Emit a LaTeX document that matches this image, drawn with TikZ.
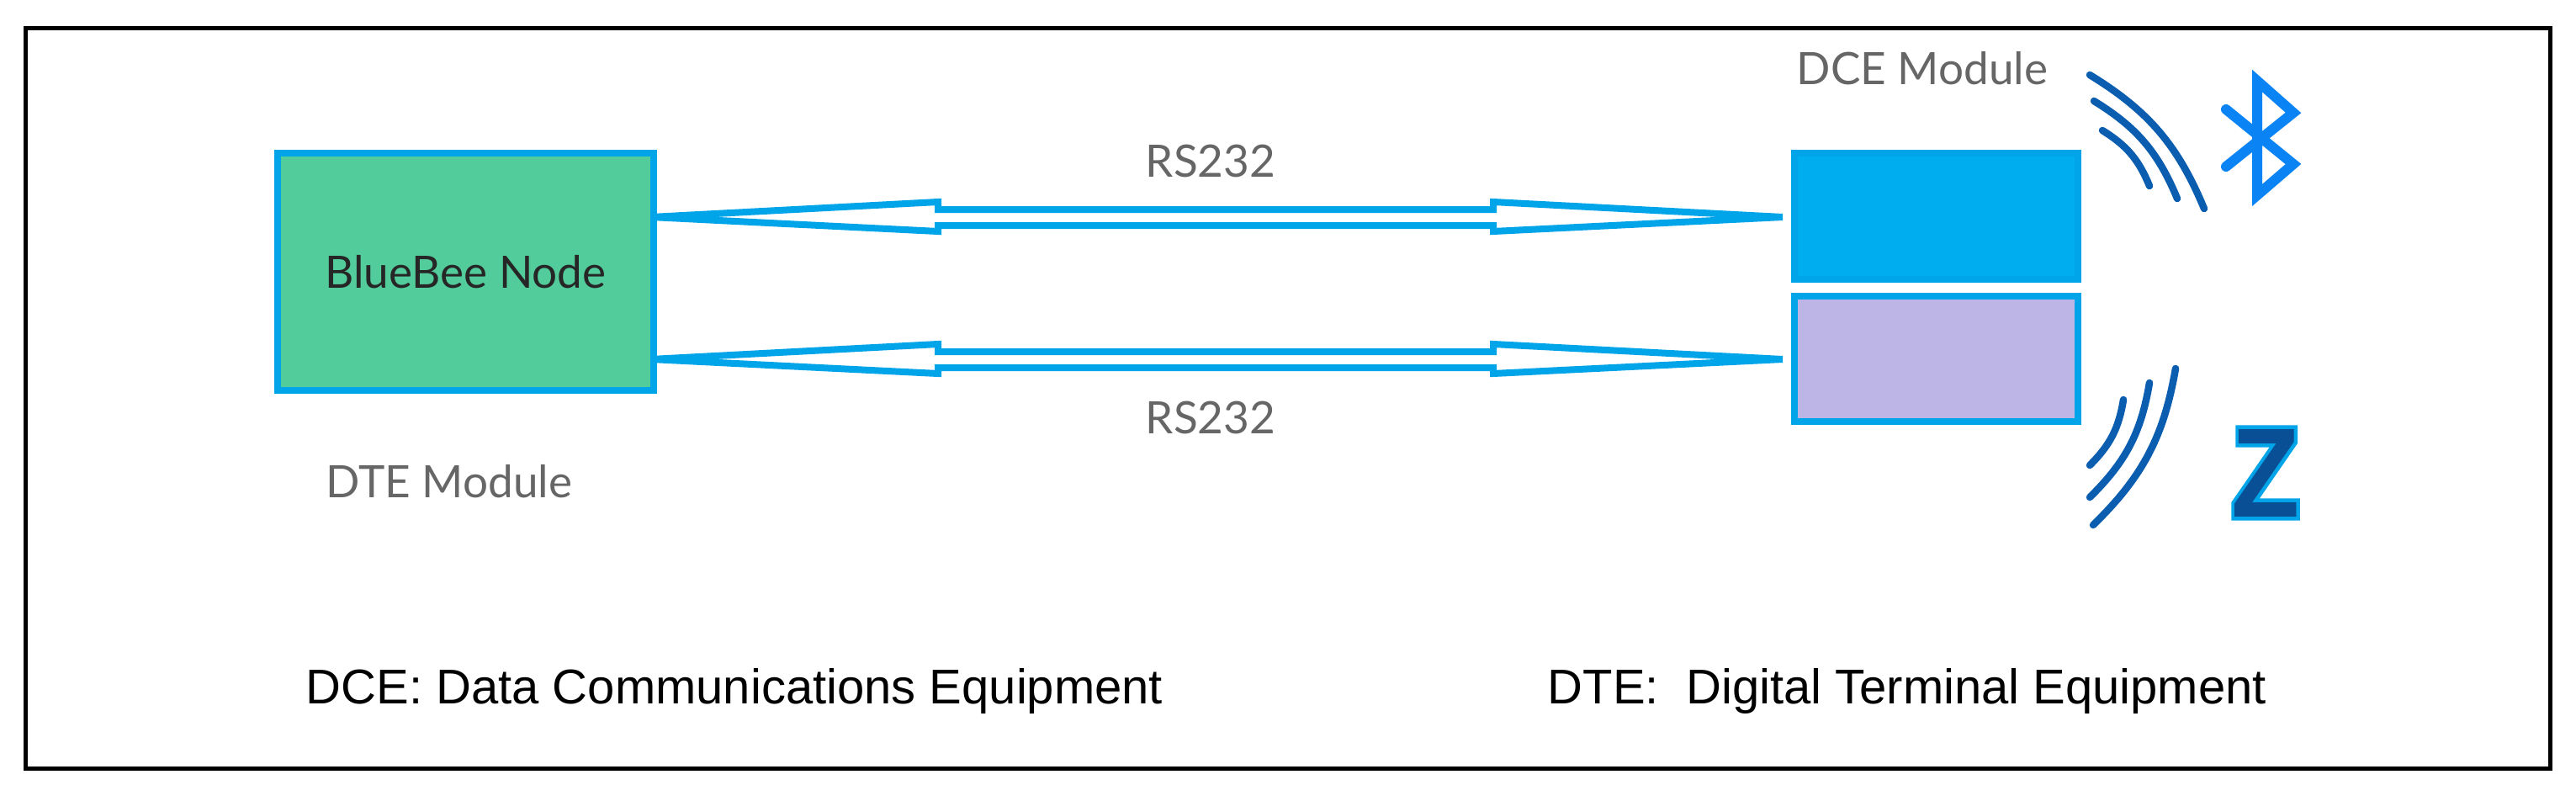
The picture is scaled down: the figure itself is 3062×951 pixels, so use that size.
\documentclass[tikz,border=0pt]{standalone}
\usepackage{fontspec}
\setmainfont{Lato}
\newfontfamily\arialfont{Liberation Sans}
\newfontfamily\zigfont[FakeBold=6]{Liberation Sans Bold}
\newfontfamily\zigthin{Liberation Sans Bold}
\usepackage{tikz}
\tikzset{>=stealth}
\definecolor{rsblue}{HTML}{00A4E8}
\definecolor{dtegreen}{HTML}{52CC9B}
\definecolor{dceblue}{HTML}{00AEEF}
\definecolor{ziglilac}{HTML}{BDB5E5}
\definecolor{btblue}{HTML}{0A84F5}
\definecolor{wavblue}{HTML}{0B5DB0}
\definecolor{txtgray}{HTML}{666666}
\tikzset{
    modbox/.style={draw=rsblue, line width=0.8mm, inner sep=0pt},
    rslink/.style={draw=rsblue, line width=0.8mm, fill=white, line join=miter},
    wave/.style={draw=wavblue, line width=0.85mm, line cap=round, bend left=18},
    graytext/.style={text=txtgray, font=\fontsize{15.1}{17}\selectfont, inner sep=0pt},
    legend/.style={text=black, font=\arialfont\fontsize{16.5}{19}\selectfont, inner sep=0pt}
}
\begin{document}
\begin{tikzpicture}[x=0.1mm,y=-0.1mm]
            \useasboundingbox (0,0) rectangle (3062,951);
            \node[draw=black, line width=0.5mm, minimum width=30.01cm, minimum height=8.80cm, inner sep=0pt] (frame) at (1530.5,473) {};
            \node[modbox, fill=dtegreen, minimum width=4.47cm, minimum height=2.82cm, text=black!85, font=\fontsize{15.1}{17}\selectfont] (dte) at (553.5,323) {BlueBee Node};
            \node[modbox, fill=dceblue, minimum width=3.37cm, minimum height=1.50cm] (dce) at (2301.5,257) {};
            \node[modbox, fill=ziglilac, minimum width=3.37cm, minimum height=1.49cm] (zig) at (2301.5,426.5) {};
            \coordinate (upa) at (774,258);
            \coordinate (upb) at (2119,258);
            \coordinate (loa) at (774,427);
            \coordinate (lob) at (2119,427);
            % the two serial links
            \draw[rslink] (upa) -- ++(341,-18) -- ++(0,9) -- ++(660,0) -- ++(0,-9) -- (upb) -- ++(-344,17) -- ++(0,-7) -- ++(-660,0) -- ++(0,7) -- cycle;
            \draw[rslink] (loa) -- ++(341,-18) -- ++(0,9) -- ++(660,0) -- ++(0,-9) -- (lob) -- ++(-344,17) -- ++(0,-7) -- ++(-660,0) -- ++(0,7) -- cycle;
            \node[graytext] (rsup) at (1439,191) {RS232};
            \node[graytext] (rslo) at (1439,496) {RS232};
            \node[graytext] (dcelab) at (2285,81) {DCE Module};
            \node[graytext] (dtelab) at (534,572) {DTE Module};
            \node[legend] (dcenote) at (873,821) {DCE: Data Communications Equipment};
            \node[legend] (dtenote) at (2267,821) {DTE:\ \ Digital Terminal Equipment};
            % radio waves
            \draw[wave] (2484,89) to (2620,248);
            \draw[wave] (2489,120) to (2588,236);
            \draw[wave] (2499,155) to (2555,221);
            \draw[wave] (2586,438) to (2488,624);
            \draw[wave] (2555,455) to (2484,591);
            \draw[wave] (2524,475) to (2484,553);
            % bluetooth rune
            \draw[btblue, line width=1.2mm, line cap=round, line join=miter] (2646,130) -- (2726,195) -- (2683,232) -- (2683,96) -- (2726,134) -- (2646,198);
            \node[text=rsblue, xscale=0.88, font=\zigfont\fontsize{43}{43}\selectfont, inner sep=0pt] (zback) at (2693,562) {Z};
            \node[text=wavblue!85!black, xscale=0.88, font=\zigthin\fontsize{43}{43}\selectfont, inner sep=0pt] (zfront) at (2693,562) {Z};
        \end{tikzpicture}
\end{document}
